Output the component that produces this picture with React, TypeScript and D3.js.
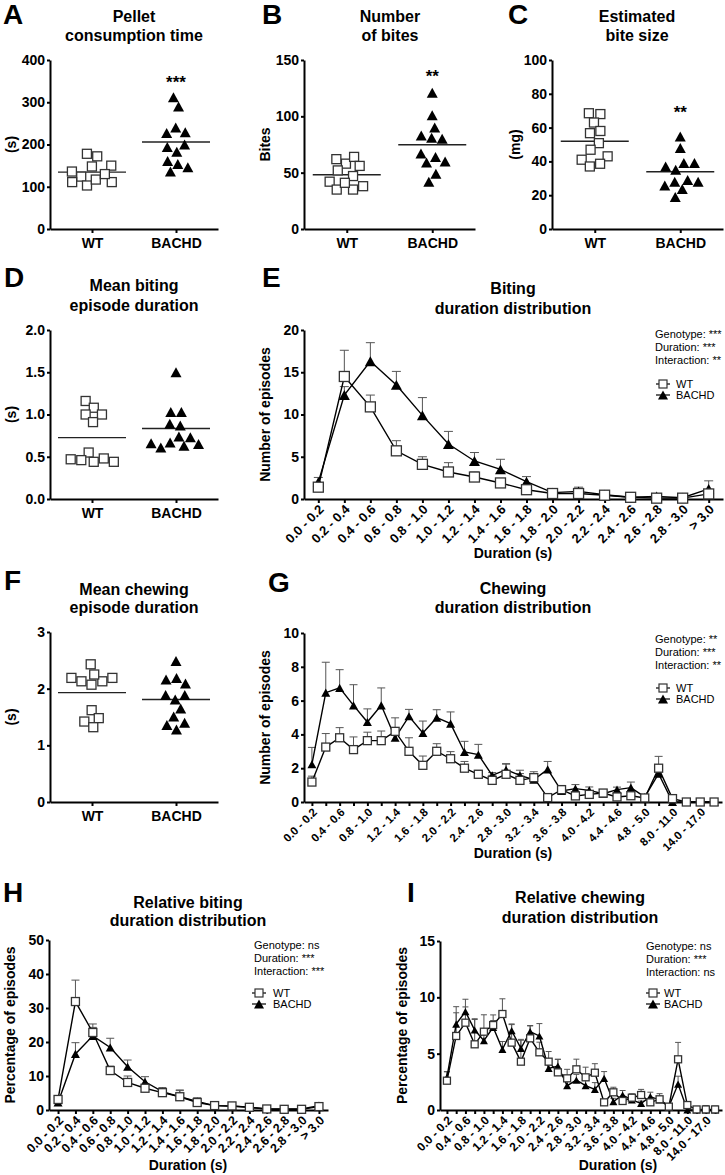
import React, { useEffect, useRef } from 'react';
import * as d3 from 'd3';

const FONT = '"Liberation Sans", Arial, Helvetica, sans-serif';
const GROUPS = ['WT', 'BACHD'];

// scatter data (one value per animal)
const pelletWT = [172, 178, 148, 136, 150, 124, 111, 103, 111, 117, 130];
const pelletBACHD = [312, 290, 240, 227, 229, 194, 200, 183, 154, 161, 146, 136];
const bitesWT = [58, 62, 64, 56, 52, 47, 42, 38, 35, 35, 41];
const bitesBACHD = [121, 101, 90, 83, 80, 81, 67, 60, 64, 59, 49, 42];
const biteSizeWT = [68.5, 68, 63, 56.7, 58, 50.8, 46.9, 41, 43, 37, 38.6];
const biteSizeBACHD = [54.7, 48, 39, 37, 39, 35, 28, 28, 29, 25.8, 23.6, 18.9];
const biteDurWT = [1.16, 1.08, 1.0, 1.0, 0.91, 0.55, 0.48, 0.46, 0.44, 0.44, 0.47];
const biteDurBACHD = [1.5, 1.03, 1.03, 0.89, 0.87, 0.74, 0.73, 0.67, 0.65, 0.61, 0.63, 0.66];
const chewDurWT = [2.43, 2.19, 2.13, 2.07, 2.13, 2.19, 2.25, 1.62, 1.48, 1.42, 1.32];
const chewDurBACHD = [2.49, 2.19, 2.16, 2.09, 1.89, 1.89, 1.81, 1.65, 1.51, 1.4, 1.36, 1.28];

// duration bins
const biteBins = ['0.0 - 0.2', '0.2 - 0.4', '0.4 - 0.6', '0.6 - 0.8', '0.8 - 1.0', '1.0 - 1.2', '1.2 - 1.4', '1.4 - 1.6',
  '1.6 - 1.8', '1.8 - 2.0', '2.0 - 2.2', '2.2 - 2.4', '2.4 - 2.6', '2.6 - 2.8', '2.8 - 3.0', '> 3.0'];
const chewBins = ['0.0 - 0.2', '0.2 - 0.4', '0.4 - 0.6', '0.6 - 0.8', '0.8 - 1.0', '1.0 - 1.2', '1.2 - 1.4', '1.4 - 1.6',
  '1.6 - 1.8', '1.8 - 2.0', '2.0 - 2.2', '2.2 - 2.4', '2.4 - 2.6', '2.6 - 2.8', '2.8 - 3.0', '3.0 - 3.2', '3.2 - 3.4',
  '3.4 - 3.6', '3.6 - 3.8', '3.8 - 4.0', '4.0 - 4.2', '4.2 - 4.4', '4.4 - 4.6', '4.6 - 4.8', '4.8 - 5.0', '5.0 - 8.0',
  '8.0 - 11.0', '11.0 - 14.0', '14.0 - 17.0', '> 17.0'];

// mean and SEM per bin
const bitingWT = [1.4, 14.5, 10.9, 5.7, 4.1, 3.2, 2.6, 1.9, 1.1, 0.65, 0.65, 0.45, 0.2, 0.1, 0.1, 0.6];
const bitingWTsem = [0.3, 3.1, 1.4, 1.2, 0.9, 1.1, 0.6, 0.4, 0.2, 0.15, 0.15, 0.15, 0.1, 0.1, 0.1, 0.4];
const bitingBACHD = [2.0, 12.3, 16.3, 13.5, 9.9, 6.5, 4.5, 3.5, 2.05, 0.75, 0.9, 0.5, 0.2, 0.3, 0.15, 1.2];
const bitingBACHDsem = [0.55, 1.0, 2.2, 1.6, 2.1, 1.5, 1.0, 1.2, 0.6, 0.15, 0.5, 0.15, 0.1, 0.35, 0.1, 0.95];

const chewingWT = [1.18, 3.25, 3.8, 3.1, 3.63, 3.63, 4.18, 3.0, 2.17, 3.0, 2.56, 2.0, 1.64, 1.28, 1.64, 1.28, 1.44,
  0.26, 0.73, 0.36, 0.45, 0.53, 0.3, 0.37, 0.24, 2.0, 0.2, 0, 0, 0];
const chewingWTsem = [0.35, 0.8, 0.6, 0.75, 0.5, 0.57, 0.8, 0.8, 0.55, 0.45, 0.42, 0.4, 0.23, 0.3, 0.6, 0.4, 0.35,
  0.15, 0.25, 0.2, 0.2, 0.2, 0.15, 0.25, 0.15, 0.7, 0.1, 0, 0, 0];
const chewingBACHD = [2.23, 6.47, 6.75, 5.72, 4.73, 5.72, 3.8, 5.07, 4.08, 4.99, 4.64, 2.96, 2.8, 1.58, 1.91, 1.58,
  1.32, 1.93, 0.65, 0.79, 0.69, 0.49, 0.73, 0.85, 0.3, 1.68, 0, 0, 0, 0];
const chewingBACHDsem = [1.0, 1.8, 1.08, 1.22, 0.78, 1.03, 0.5, 0.41, 0.71, 0.47, 0.69, 0.63, 0.61, 0.16, 0.36, 0.3,
  0.3, 0.47, 0.2, 0.24, 0.2, 0.1, 0.15, 0.33, 0.1, 0.5, 0, 0, 0, 0];

const relBitingWT = [3.1, 31.9, 22.8, 11.6, 8.1, 6.4, 5.1, 3.9, 2.2, 1.3, 1.2, 0.8, 0.3, 0.2, 0.2, 1.0];
const relBitingWTsem = [0.8, 6.3, 2.5, 1.3, 1.9, 0.9, 1.0, 1.8, 0.6, 0.3, 0.3, 0.2, 0.2, 0.1, 0.1, 0.6];
const relBitingBACHD = [2.2, 16.5, 21.8, 18.4, 12.7, 8.3, 5.4, 3.9, 2.5, 1.3, 1.1, 0.8, 0.3, 0.3, 0.3, 1.3];
const relBitingBACHDsem = [0.5, 3.3, 2.5, 2.7, 2.0, 1.5, 1.2, 2.0, 1.1, 0.3, 0.3, 0.2, 0.2, 0.2, 0.2, 0.9];

const relChewingWT = [2.6, 6.57, 7.75, 5.83, 6.95, 7.54, 8.52, 5.98, 4.29, 6.36, 5.12, 4.29, 3.34, 2.81, 3.61, 2.9,
  3.31, 0.68, 1.57, 0.8, 1.09, 1.33, 0.68, 0.95, 0.3, 4.5, 0.44, 0.05, 0.05, 0.05];
const relChewingWTsem = [0.8, 2.6, 1.4, 2.2, 1.5, 0.9, 1.35, 1.6, 1.9, 1.1, 0.9, 0.9, 1.16, 0.8, 0.9, 0.9, 0.8,
  0.25, 0.45, 0.3, 0.35, 0.5, 0.3, 0.5, 0.2, 1.5, 0.15, 0.1, 0.35, 0.3];
const relChewingBACHD = [2.9, 7.63, 8.73, 7.1, 6.15, 7.34, 5.38, 7.04, 5.47, 6.95, 6.57, 3.7, 3.9, 2.16, 2.66, 2.16,
  1.83, 2.81, 0.74, 1.33, 0.89, 0.59, 1.18, 0.9, 0.3, 2.3, 0, 0, 0, 0];
const relChewingBACHDsem = [0.5, 1.0, 1.1, 1.0, 0.8, 0.6, 0.7, 0.6, 0.8, 0.55, 1.1, 0.6, 0.6, 0.4, 0.5, 0.5, 0.6,
  0.6, 0.3, 0.4, 0.3, 0.2, 0.4, 0.3, 0.2, 0.7, 0, 0, 0, 0];

const statsBiting = ['Genotype: ***', 'Duration: ***', 'Interaction: **'];
const statsChewing = ['Genotype: **', 'Duration: ***', 'Interaction: **'];
const statsRelBiting = ['Genotype: ns', 'Duration: ***', 'Interaction: ***'];
const statsRelChewing = ['Genotype: ns', 'Duration: ***', 'Interaction: ns'];

const scatterPanels = [
  { letter: 'A', lx: 3, ly: 24, title: ['Pellet', 'consumption time'], tx: 134, ty: [22, 41],
    left: 50, right: 218, top: 60, bottom: 229, max: 400, step: 100, fmt: 'd',
    yLabel: '(s)', yLabelX: 11, wt: pelletWT, bachd: pelletBACHD, stars: '***', starsY: 88 },
  { letter: 'B', lx: 262, ly: 24, title: ['Number', 'of bites'], tx: 390, ty: [22, 41],
    left: 304, right: 475, top: 60, bottom: 229, max: 150, step: 50, fmt: 'd',
    yLabel: 'Bites', yLabelX: 265, wt: bitesWT, bachd: bitesBACHD, stars: '**', starsY: 82 },
  { letter: 'C', lx: 508, ly: 24, title: ['Estimated', 'bite size'], tx: 637, ty: [22, 41],
    left: 552, right: 723, top: 60, bottom: 229, max: 100, step: 20, fmt: 'd',
    yLabel: '(mg)', yLabelX: 515, wt: biteSizeWT, bachd: biteSizeBACHD, stars: '**', starsY: 118 },
  { letter: 'D', lx: 4, ly: 287, title: ['Mean biting', 'episode duration'], tx: 134, ty: [291, 311],
    left: 50, right: 218, top: 330, bottom: 499, max: 2, step: 0.5, fmt: '.1f',
    yLabel: '(s)', yLabelX: 11, wt: biteDurWT, bachd: biteDurBACHD, stars: '', starsY: 0 },
  { letter: 'F', lx: 4, ly: 590, title: ['Mean chewing', 'episode duration'], tx: 134, ty: [595, 613],
    left: 50, right: 218, top: 632, bottom: 802, max: 3, step: 1, fmt: 'd',
    yLabel: '(s)', yLabelX: 11, wt: chewDurWT, bachd: chewDurBACHD, stars: '', starsY: 0 },
];

const linePanels = [
  { letter: 'E', lx: 262, ly: 287, title: ['Biting', 'duration distribution'], tx: 513, ty: [294, 314],
    left: 304, right: 723, top: 330, bottom: 499, pad: 0.55, max: 20, step: 5, bins: biteBins, every: 1, fs: 13,
    yLabel: 'Number of episodes', yLabelX: 265, xLabelX: 513, xLabelY: 558,
    wt: bitingWT, wtErr: bitingWTsem, bachd: bitingBACHD, bachdErr: bitingBACHDsem,
    stats: statsBiting, sx: 655, sy: 338, legX: 663, legTX: 676, legY: 384, sq: 10, tri: 11, cap: 9 },
  { letter: 'G', lx: 268, ly: 592, title: ['Chewing', 'duration distribution'], tx: 513, ty: [594, 613],
    left: 304, right: 722, top: 633, bottom: 802, pad: 0.57, max: 10, step: 2, bins: chewBins, every: 2, fs: 11.5,
    yLabel: 'Number of episodes', yLabelX: 265, xLabelX: 513, xLabelY: 858,
    wt: chewingWT, wtErr: chewingWTsem, bachd: chewingBACHD, bachdErr: chewingBACHDsem,
    stats: statsChewing, sx: 655, sy: 643, legX: 663, legTX: 676, legY: 688, sq: 8, tri: 9, cap: 8 },
  { letter: 'H', lx: 3, ly: 902, title: ['Relative biting', 'duration distribution'], tx: 188, ty: [908, 926],
    left: 49, right: 328, top: 940, bottom: 1110, pad: 0.52, max: 50, step: 10, bins: biteBins, every: 1, fs: 12.5,
    yLabel: 'Percentage of episodes', yLabelX: 10, xLabelX: 188, xLabelY: 1170,
    wt: relBitingWT, wtErr: relBitingWTsem, bachd: relBitingBACHD, bachdErr: relBitingBACHDsem,
    stats: statsRelBiting, sx: 254, sy: 949, legX: 259, legTX: 273, legY: 993, sq: 8, tri: 9, cap: 8 },
  { letter: 'I', lx: 407, ly: 902, title: ['Relative chewing', 'duration distribution'], tx: 580, ty: [903, 923],
    left: 440, right: 722, top: 941, bottom: 1110, pad: 0.75, max: 15, step: 5, bins: chewBins, every: 2, fs: 12,
    yLabel: 'Percentage of episodes', yLabelX: 402, xLabelX: 618, xLabelY: 1170,
    wt: relChewingWT, wtErr: relChewingWTsem, bachd: relChewingBACHD, bachdErr: relChewingBACHDsem,
    stats: statsRelChewing, sx: 646, sy: 950, legX: 653, legTX: 664, legY: 993, sq: 7, tri: 8, cap: 6 },
];

const triPath = (w: number, h: number) => `M0,${-h / 2}L${w / 2},${h / 2}L${-w / 2},${h / 2}Z`;

function styleAxis(g: any, size: number) {
  g.attr('font-family', null).attr('font-size', null);
  g.select('.domain').attr('stroke', '#000').attr('stroke-width', 2);
  g.selectAll('.tick line').attr('stroke', '#000').attr('stroke-width', 2);
  g.selectAll('.tick text').attr('font-family', FONT).attr('font-weight', 'bold')
    .attr('font-size', size).attr('fill', '#000');
}

function headings(svg: any, p: any) {
  svg.append('text').attr('x', p.lx).attr('y', p.ly).attr('font-size', 28).attr('font-weight', 'bold').text(p.letter);
  p.title.forEach((t: string, i: number) => {
    svg.append('text').attr('x', p.tx).attr('y', p.ty[i]).attr('text-anchor', 'middle')
      .attr('font-size', 16).attr('font-weight', 'bold').text(t);
  });
  svg.append('text')
    .attr('transform', `translate(${p.yLabelX},${(p.top + p.bottom) / 2}) rotate(-90)`)
    .attr('text-anchor', 'middle').attr('dominant-baseline', 'central')
    .attr('font-size', 14).attr('font-weight', 'bold').text(p.yLabel);
}

// beeswarm: y is pinned to the value, a collision force spreads points sideways
function swarm(values: number[], cx: number, y: any, r: number) {
  const nodes: any[] = values.map(v => ({ v, x: cx, y: y(v), fy: y(v) }));
  const sim = d3.forceSimulation(nodes)
    .force('x', d3.forceX(cx).strength(0.04))
    .force('c', d3.forceCollide(r).iterations(3))
    .stop();
  for (let i = 0; i < 300; i++) sim.tick();
  return nodes.map(n => ({ v: n.v, x: n.x, y: n.fy }));
}

function drawScatter(svg: any, p: any) {
  const x = d3.scalePoint().domain(GROUPS).range([p.left, p.right]).padding(0.5);
  const y = d3.scaleLinear().domain([0, p.max]).range([p.bottom, p.top]);
  headings(svg, p);

  const ya = svg.append('g').attr('transform', `translate(${p.left},0)`)
    .call(d3.axisLeft(y).tickValues(d3.range(0, p.max + p.step / 2, p.step))
      .tickFormat(d3.format(p.fmt)).tickSize(3).tickSizeOuter(0).tickPadding(2));
  styleAxis(ya, 14);
  const xa = svg.append('g').attr('transform', `translate(0,${p.bottom})`)
    .call(d3.axisBottom(x).tickSize(4).tickSizeOuter(0).tickPadding(5));
  styleAxis(xa, 14);

  const groups = [{ key: 'WT', vals: p.wt }, { key: 'BACHD', vals: p.bachd }];
  groups.forEach(gr => {
    const cx = x(gr.key) as number;
    const pts = swarm(gr.vals, cx, y, 5.3);
    const m = d3.mean(gr.vals) as number;
    svg.append('line').attr('x1', cx - 34).attr('x2', cx + 34).attr('y1', y(m)).attr('y2', y(m))
      .attr('stroke', '#222').attr('stroke-width', 1.4);
    const sel = svg.append('g').selectAll('path').data(pts).enter();
    if (gr.key === 'WT') {
      sel.append('rect').attr('x', (d: any) => d.x - 4.5).attr('y', (d: any) => d.y - 4.5)
        .attr('width', 9).attr('height', 9).attr('fill', '#fff').attr('stroke', '#333').attr('stroke-width', 1.3);
    } else {
      sel.append('path').attr('d', triPath(11, 10))
        .attr('transform', (d: any) => `translate(${d.x},${d.y})`).attr('fill', '#000');
    }
  });
  if (p.stars) {
    svg.append('text').attr('x', x('BACHD')).attr('y', p.starsY).attr('text-anchor', 'middle')
      .attr('font-size', 17).attr('font-weight', 'bold').text(p.stars);
  }
}

function drawLines(svg: any, p: any) {
  const x = d3.scalePoint().domain(p.bins).range([p.left, p.right]).padding(p.pad);
  const y = d3.scaleLinear().domain([0, p.max]).range([p.bottom, p.top]);
  headings(svg, p);

  const ya = svg.append('g').attr('transform', `translate(${p.left},0)`)
    .call(d3.axisLeft(y).tickValues(d3.range(0, p.max + p.step / 2, p.step))
      .tickFormat(d3.format('d')).tickSize(3).tickSizeOuter(0).tickPadding(2));
  styleAxis(ya, 14);
  const xa = svg.append('g').attr('transform', `translate(0,${p.bottom})`)
    .call(d3.axisBottom(x).tickSize(4).tickSizeOuter(0).tickFormat(() => ''));
  styleAxis(xa, 12);
  const bins = p.bins.filter((_: string, i: number) => i % p.every === 0);
  svg.append('g').selectAll('text').data(bins).enter().append('text')
    .attr('transform', (d: string) => `translate(${(x(d) as number) + 3},${p.bottom + 8}) rotate(-45)`)
    .attr('text-anchor', 'end').attr('dy', '0.35em')
    .attr('font-size', p.fs).attr('font-weight', 'bold').text((d: string) => d);
  svg.append('text').attr('x', p.xLabelX).attr('y', p.xLabelY).attr('text-anchor', 'middle')
    .attr('font-size', 14).attr('font-weight', 'bold').text('Duration (s)');

  const series = [
    { key: 'BACHD', vals: p.bachd, err: p.bachdErr },
    { key: 'WT', vals: p.wt, err: p.wtErr },
  ];
  const pts = (s: any) => s.vals.map((v: number, i: number) => ({ x: x(p.bins[i]) as number, v, e: s.err[i] }));

  series.forEach(s => {
    const eg = svg.append('g').attr('stroke', '#555').attr('stroke-width', 1);
    pts(s).filter((d: any) => d.e > 0).forEach((d: any) => {
      eg.append('line').attr('x1', d.x).attr('x2', d.x).attr('y1', y(d.v)).attr('y2', y(d.v + d.e));
      eg.append('line').attr('x1', d.x - p.cap / 2).attr('x2', d.x + p.cap / 2)
        .attr('y1', y(d.v + d.e)).attr('y2', y(d.v + d.e));
    });
  });
  const line = d3.line<any>().x(d => d.x).y(d => y(d.v));
  series.forEach(s => {
    svg.append('path').attr('d', line(pts(s))).attr('fill', 'none').attr('stroke', '#000').attr('stroke-width', 1.4);
  });
  series.forEach(s => {
    const sel = svg.append('g').selectAll('x').data(pts(s)).enter();
    if (s.key === 'WT') {
      sel.append('rect').attr('x', (d: any) => d.x - p.sq / 2).attr('y', (d: any) => y(d.v) - p.sq / 2)
        .attr('width', p.sq).attr('height', p.sq).attr('fill', '#fff').attr('stroke', '#333').attr('stroke-width', 1.3);
    } else {
      sel.append('path').attr('d', triPath(p.tri, p.tri * 0.9))
        .attr('transform', (d: any) => `translate(${d.x},${y(d.v)})`).attr('fill', '#000');
    }
  });

  // statistics and legend
  p.stats.forEach((t: string, i: number) => {
    svg.append('text').attr('x', p.sx).attr('y', p.sy + i * 13).attr('font-size', 11).text(t);
  });
  GROUPS.forEach((gname, i) => {
    const yy = p.legY + i * 11;
    svg.append('line').attr('x1', p.legX - 7).attr('x2', p.legX + 7).attr('y1', yy).attr('y2', yy)
      .attr('stroke', '#000').attr('stroke-width', 1.2);
    if (gname === 'WT') {
      svg.append('rect').attr('x', p.legX - 4).attr('y', yy - 4).attr('width', 8).attr('height', 8)
        .attr('fill', '#fff').attr('stroke', '#333').attr('stroke-width', 1.2);
    } else {
      svg.append('path').attr('d', triPath(10, 9)).attr('transform', `translate(${p.legX},${yy})`).attr('fill', '#000');
    }
    svg.append('text').attr('x', p.legTX).attr('y', yy).attr('dy', '0.35em').attr('font-size', 11).text(gname);
  });
}

export default function App() {
  const ref = useRef<SVGSVGElement>(null);

  useEffect(() => {
    const svg = d3.select(ref.current);
    svg.selectAll('*').remove();
    const root = svg.append('g').attr('font-family', FONT).attr('fill', '#000');
    scatterPanels.forEach(p => drawScatter(root, p));
    linePanels.forEach(p => drawLines(root, p));
  }, []);

  return (
    <svg ref={ref} width={725} height={1175}
      style={{ position: 'absolute', left: 0, top: 0, background: '#fff', display: 'block' }} />
  );
}
